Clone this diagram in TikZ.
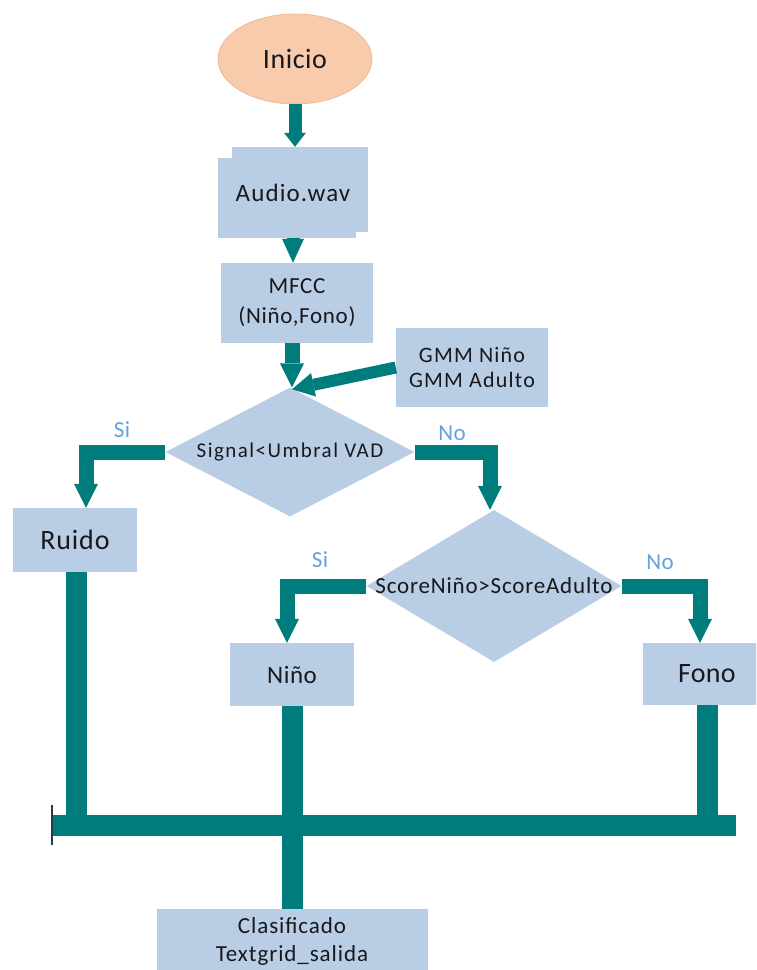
\documentclass[tikz,border=0pt]{standalone}
\usepackage{fontspec}
\setmainfont{Carlito}
\usetikzlibrary{shapes.geometric,arrows.meta}

\definecolor{flowteal}{RGB}{0,124,124}
\definecolor{boxblue}{RGB}{185,205,229}
\definecolor{startorange}{RGB}{248,203,173}
\definecolor{startedge}{RGB}{236,186,150}
\definecolor{labelblue}{RGB}{100,160,220}
\definecolor{inkdark}{RGB}{24,24,30}
\definecolor{tickdark}{RGB}{40,60,80}

\tikzset{
  % font size, line distance and letter spacing
  fs/.style n args={3}{font=\fontsize{#1}{#2}\selectfont\addfontfeature{LetterSpace=#3}},
  box/.style={fill=boxblue, draw=none, text=inkdark, align=center, inner sep=0pt},
  decision/.style={diamond, fill=boxblue, draw=none, text=inkdark, inner sep=0pt},
  startnode/.style={ellipse, fill=startorange, draw=startedge, line width=0.8pt, text=inkdark, inner sep=0pt},
  flow/.style={draw=flowteal, line width=15pt, line join=miter,
    -{Triangle[length=24pt,width=24pt,line width=0pt]}},
  bus/.style={draw=flowteal, line width=21pt},
  branchlabel/.style={text=labelblue, fs={23}{23}{2}, inner sep=0pt},
}

\begin{document}
\begin{tikzpicture}[x=1pt,y=-1pt]
  \useasboundingbox (0,0) rectangle (756,970);
  \clip (0,0) rectangle (756,970);

  % start
  \node[startnode, minimum width=154pt, minimum height=90pt, fs={28}{28}{2}] (inicio) at (295,59) {Inicio};

  % stacked input block
  \fill[boxblue] (232,147) rectangle (368,232);
  \fill[boxblue] (218,158) rectangle (356,238);
  \node[text=inkdark, minimum width=150pt, minimum height=91pt, inner sep=0pt, fs={25}{25}{4.5}] (audio) at (293,192.5) {Audio.wav};

  % feature extraction and models
  \node[box, minimum width=152pt, minimum height=80pt, fs={23}{30}{3}] (mfcc) at (297,303) {MFCC\\(Niño,Fono)};
  \node[box, minimum width=152pt, minimum height=79pt, fs={22}{25}{5.5}] (gmm) at (472,367.5) {GMM Niño\\GMM Adulto};

  % decisions
  \node[decision, minimum width=249pt, minimum height=129pt, fs={21}{21}{7}] (d1) at (290,452)
    {\raisebox{4pt}{\makebox[0pt]{Signal<Umbral VAD}}};
  \node[decision, minimum width=255pt, minimum height=152pt, fs={23}{23}{3.5}] (d2) at (494,586)
    {\makebox[0pt]{ScoreNiño>ScoreAdulto}};

  % outcomes
  \node[box, minimum width=124pt, minimum height=64pt, fs={28}{28}{3}] (ruido) at (75,540) {Ruido};
  \node[box, minimum width=124pt, minimum height=63pt, fs={25}{25}{2}] (nino) at (292,674.5) {Niño};
  \node[box, minimum width=128pt, minimum height=62pt, fs={28}{28}{1}] (fono) at (707,674) {Fono};
  \node[box, minimum width=271pt, minimum height=64pt, fs={23}{28}{4}] (clas) at (292,941)
    {Clasificado\\Textgrid\_salida};

  % main sequence
  \draw[flow, line width=13pt, -{Triangle[length=14pt,width=22pt,line width=0pt]}]
    (inicio.south) -- (inicio.south |- audio.north);
  \draw[flow, line width=13pt, -{Triangle[length=24pt,width=22pt,line width=0pt]}]
    (audio.south) -- (audio.south |- mfcc.north);
  \draw[flow] ([xshift=2pt]mfcc.south -| d1.north) -- ([xshift=2pt]d1.north);
  \draw[flow, line width=12pt, -{Triangle[length=22pt,width=24pt,line width=0pt]}]
    (gmm.west) -- ([xshift=2pt,yshift=-2pt]d1.north);

  % branches
  \draw[flow] (d1.west) -| ([xshift=11pt]ruido.north);
  \draw[flow] (d1.east) -| ([xshift=-4pt]d2.north);
  \draw[flow] (d2.west) -| ([xshift=-5pt]nino.north);
  \draw[flow] (d2.east) -| ([xshift=-7pt]fono.north);

  \node[branchlabel] (si1) at (122,430) {Si};
  \node[branchlabel] (no1) at (452,433) {No};
  \node[branchlabel] (si2) at (320,560) {Si};
  \node[branchlabel] (no2) at (660,562) {No};

  % collecting bus
  \coordinate (busL) at (52,825);
  \coordinate (busR) at (736,825);
  \draw[bus] ([xshift=1pt]ruido.south) -- ([xshift=1pt]ruido.south |- busL);
  \draw[bus] (fono.south) -- ([yshift=10pt]fono.south |- busL);
  \draw[bus] (nino.south) -- (nino.south |- clas.north);
  \draw[bus] (busL) -- (busR);
  \draw[tickdark, line width=1.3pt] ([yshift=-20pt]busL) -- ([yshift=20pt]busL);
\end{tikzpicture}
\end{document}
